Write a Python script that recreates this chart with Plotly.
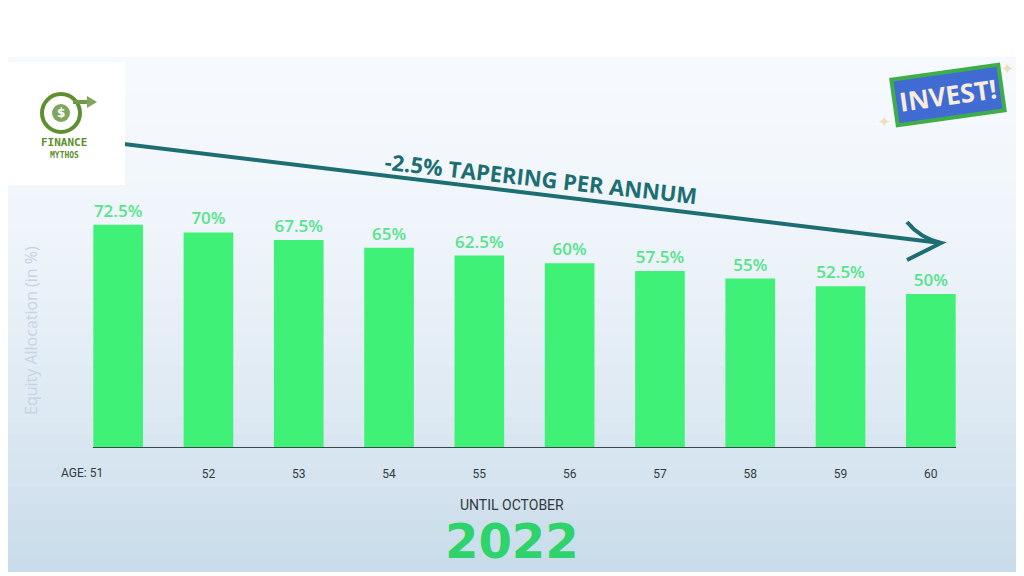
import plotly.graph_objects as go

# ---- data ----
ages = ["51", "52", "53", "54", "55", "56", "57", "58", "59", "60"]
equity = [72.5, 70, 67.5, 65, 62.5, 60, 57.5, 55, 52.5, 50]
labels = ["72.5%", "70%", "67.5%", "65%", "62.5%", "60%", "57.5%", "55%", "52.5%", "50%"]
tick_text = ["", "52", "53", "54", "55", "56", "57", "58", "59", "60"]

# the page body adds an 8px margin; the figure is laid out in screen pixels
O = 8
SW, SH = 1024, 576
W, H = SW - O, SH - O
PW, PH = 903, 258
L, T = 73 - O, 190 - O
R, B = W - L - PW, H - T - PH


def px(x, y):
    """screen pixel -> paper coords"""
    return ((x - O) - L) / PW, ((H - B) - (y - O)) / PH


def hexmix(c1, c2, t):
    a = [int(c1[i:i + 2], 16) for i in (1, 3, 5)]
    b = [int(c2[i:i + 2], 16) for i in (1, 3, 5)]
    return "#%02x%02x%02x" % tuple(round(a[k] + (b[k] - a[k]) * t) for k in range(3))


fig = go.Figure()
fig.add_trace(go.Bar(
    x=list(range(len(ages))), y=equity,
    marker=dict(color="#3ff277", line=dict(width=0)),
    text=labels, textposition="outside", cliponaxis=False,
    textfont=dict(color="#55e48c", size=17, family="Open Sans", weight=600),
    hoverinfo="skip",
))

shapes = []
# background gradient panel
n = 30
top, bot = 57, 572
for i in range(n):
    y0 = top + (bot - top) * i / n
    y1 = top + (bot - top) * (i + 1) / n + 0.5
    t = (i / (n - 1)) ** 1.6
    col = hexmix("#f6f9fd", "#c9dcea", t)
    x0p, y0p = px(0, y0)
    x1p, y1p = px(SW + 10, y1)
    shapes.append(dict(type="rect", xref="paper", yref="paper", x0=x0p, x1=x1p,
                       y0=y0p, y1=y1p, fillcolor=col, line=dict(width=0), layer="below"))
# top white band & bottom strip
for (ya, yb) in [(0, 57), (572, 590)]:
    a = px(0, ya); b = px(SW + 10, yb)
    shapes.append(dict(type="rect", xref="paper", yref="paper", x0=a[0], x1=b[0], y0=a[1], y1=b[1],
                       fillcolor="#ffffff", line=dict(width=0), layer="below"))

# baseline
shapes.append(dict(type="line", xref="x", yref="y", x0=-0.28, x1=9.28, y0=0, y1=0,
                   line=dict(color="#3a4a4a", width=2)))

# tapering arrow
a = px(8, 130); b = px(941, 243)
shapes.append(dict(type="line", xref="paper", yref="paper", x0=a[0], y0=a[1], x1=b[0], y1=b[1],
                   line=dict(color="#1d6e72", width=4)))
p1 = px(907, 222); p2 = px(941, 243); p3 = px(907, 260); pc = px(920, 238)
shapes.append(dict(type="path", xref="paper", yref="paper",
                   path=f"M {p1[0]},{p1[1]} Q {pc[0]},{pc[1]} {p2[0]},{p2[1]} L {p3[0]},{p3[1]}",
                   line=dict(color="#1d6e72", width=4)))

# logo box
a = px(8, 62); b = px(125, 185)
shapes.append(dict(type="rect", xref="paper", yref="paper", x0=a[0], x1=b[0], y0=a[1], y1=b[1],
                   fillcolor="#ffffff", line=dict(width=0)))
a = px(42, 94); b = px(80, 132)
shapes.append(dict(type="circle", xref="paper", yref="paper", x0=a[0], x1=b[0], y0=a[1], y1=b[1],
                   line=dict(color="#5f8f2e", width=4)))
a = px(52, 104); b = px(70, 122)
shapes.append(dict(type="circle", xref="paper", yref="paper", x0=a[0], x1=b[0], y0=a[1], y1=b[1],
                   fillcolor="#7fa55e", line=dict(width=0)))
a = px(73, 102); b = px(87, 102)
shapes.append(dict(type="line", xref="paper", yref="paper", x0=a[0], x1=b[0], y0=a[1], y1=b[1],
                   line=dict(color="#6e9a46", width=4)))
q1 = px(87, 96); q2 = px(97, 102); q3 = px(87, 108)
shapes.append(dict(type="path", xref="paper", yref="paper",
                   path=f"M {q1[0]},{q1[1]} L {q2[0]},{q2[1]} L {q3[0]},{q3[1]} Z",
                   fillcolor="#7fa55e", line=dict(width=0)))

annotations = []


def ann(x, y, text, size, color, family="Open Sans", angle=0, **kw):
    xp, yp = px(x, y)
    annotations.append(dict(xref="paper", yref="paper", x=xp, y=yp, text=text, showarrow=False,
                            font=dict(size=size, color=color, family=family), textangle=angle,
                            xanchor="center", yanchor="middle", **kw))


ann(541, 178, "<b>-2.5% TAPERING PER ANNUM</b>", 22, "#1d6e72", angle=6.3)
ann(31, 331, "Equity Allocation (in %)", 16, "#c6d4e4", family="Open Sans", angle=-90)
ann(512, 505, "UNTIL OCTOBER", 14, "#333b40", family="Roboto")
ann(512, 541, "<b>2022</b>", 48, "#2fd36b", family="DejaVu Sans")
ann(61, 113, "<b>$</b>", 12, "#ffffff", family="DejaVu Sans")
ann(64, 143, "<b>FINANCE</b>", 11, "#5f8f2e", family="DejaVu Sans Mono")
ann(64, 155, "<b>MYTHOS</b>", 8, "#5f8f2e", family="DejaVu Sans Mono")
ann(948, 95, "<b>INVEST!</b>", 26, "#f8ecdc", family="Open Sans", angle=-8,
    bgcolor="#3f6bd3", bordercolor="#3fae4a", borderwidth=4, borderpad=3)
ann(1007, 69, "✦", 15, "#efdcb8", family="DejaVu Sans")
ann(884, 122, "✦", 15, "#efdcb8", family="DejaVu Sans")

# first tick label with prefix
annotations.append(dict(xref="x", yref="paper", x=0, y=px(0, 473)[1], text="AGE: 51", showarrow=False,
                        xanchor="right", yanchor="middle", xshift=-13,
                        font=dict(size=12, color="#333b40", family="Roboto")))

fig.update_layout(
    width=W, height=H,
    margin=dict(l=L, r=R, t=T, b=B),
    paper_bgcolor="#ffffff", plot_bgcolor="rgba(0,0,0,0)",
    bargap=0.45, showlegend=False,
    xaxis=dict(range=[-0.5, 9.5], tickvals=list(range(len(ages))), ticktext=tick_text,
               showgrid=False, zeroline=False, showline=False,
               ticks="outside", ticklen=15, tickcolor="rgba(0,0,0,0)",
               tickfont=dict(size=12, color="#333b40", family="Roboto")),
    yaxis=dict(range=[0, PH / 3.08], visible=False, showgrid=False, zeroline=False),
    shapes=shapes, annotations=annotations,
)
fig.write_html("out.html")
